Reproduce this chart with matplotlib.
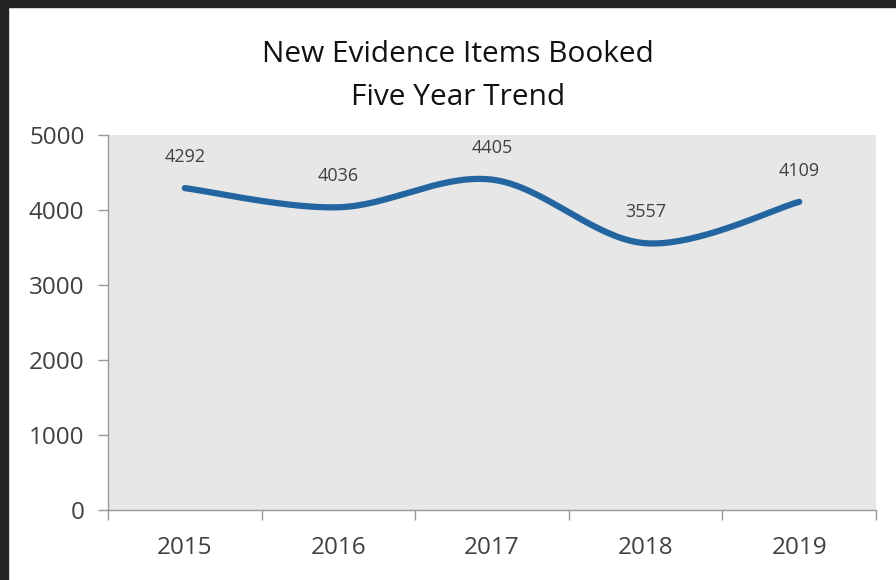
import numpy as np
import matplotlib
matplotlib.use("Agg")
import matplotlib.pyplot as plt
from matplotlib.patches import Rectangle

years = ["2015", "2016", "2017", "2018", "2019"]
items = [4292, 4036, 4405, 3557, 4109]
y_ticks = [0, 1000, 2000, 3000, 4000, 5000]

W, H = 896, 580
fig = plt.figure(figsize=(W / 100, H / 100), dpi=100)
fig.patch.set_facecolor("white")
# dark frame (top & left)
fig.patches.append(Rectangle((0, 1 - 7 / H), 1, 7 / H, transform=fig.transFigure, color="#242424", zorder=0))
fig.patches.append(Rectangle((0, 0), 8 / W, 1, transform=fig.transFigure, color="#242424", zorder=0))

ax = fig.add_axes([108 / W, 1 - 510 / H, (876 - 108) / W, (510 - 135) / H])
ax.set_facecolor("#e7e7e7")

x = np.arange(len(items), dtype=float)
y = np.array(items, dtype=float)

# Smoothed line (Bezier through points, Catmull-Rom style control points)
def smooth(xp, yp, n=40):
    xs, ys = [], []
    P = np.column_stack([xp, yp])
    for i in range(len(P) - 1):
        p0 = P[i - 1] if i > 0 else P[i]
        p1 = P[i]
        p2 = P[i + 1]
        p3 = P[i + 2] if i + 2 < len(P) else P[i + 1]
        c1 = p1 + (p2 - p0) / 6
        c2 = p2 - (p3 - p1) / 6
        t = np.linspace(0, 1, n)[:, None]
        B = (1 - t) ** 3 * p1 + 3 * (1 - t) ** 2 * t * c1 + 3 * (1 - t) * t ** 2 * c2 + t ** 3 * p2
        xs.append(B[:, 0]); ys.append(B[:, 1])
    return np.concatenate(xs), np.concatenate(ys)

sx, sy = smooth(x, y)
ax.plot(sx, sy, color="#2365a0", lw=4.5, solid_capstyle="round", zorder=3)

font = "Open Sans"
for xi, yi in zip(x, y):
    ax.annotate(str(int(yi)), (xi, yi), xytext=(0, 22.5), textcoords="offset points",
                ha="center", va="center", fontsize=13, color="#404040", family=font)

ax.set_xlim(-0.5, len(items) - 0.5)
ax.set_ylim(0, 5000)
ax.set_yticks(y_ticks)
ax.set_yticklabels([str(v) for v in y_ticks], fontsize=17.5, color="#404040", family=font)
ax.set_xticks(x)
ax.set_xticklabels(years, fontsize=17.5, color="#404040", family=font)
ax.tick_params(axis="x", which="major", length=0, pad=19)
ax.set_xticks(np.arange(-0.5, len(items), 1.0), minor=True)
ax.tick_params(axis="x", which="minor", length=7, color="#999999", width=1)
ax.tick_params(axis="y", length=7, color="#999999", width=1, pad=10)
for s in ["top", "right"]:
    ax.spines[s].set_visible(False)
for s in ["left", "bottom"]:
    ax.spines[s].set_color("#999999")
    ax.spines[s].set_linewidth(1)

fig.text(458 / W, 1 - 54 / H, "New Evidence Items Booked", ha="center", va="center",
         fontsize=21.5, color="#111111", family=font)
fig.text(458 / W, 1 - 97 / H, "Five Year Trend", ha="center", va="center",
         fontsize=21.5, color="#111111", family=font)

fig.savefig("out.png", dpi=100, facecolor="white")
